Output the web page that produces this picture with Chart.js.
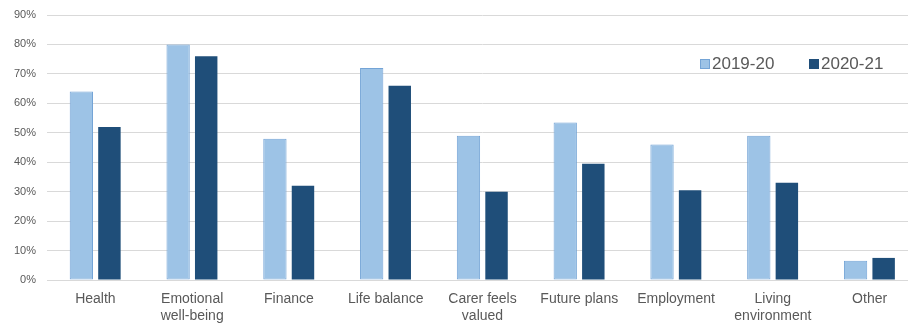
<!DOCTYPE html>
<html>
<head>
<meta charset="utf-8">
<script src="https://cdn.jsdelivr.net/npm/chart.js@4"></script>
<style>
  html, body { margin: 0; padding: 0; background: #ffffff; overflow: hidden; }
  #wrap { width: 918px; height: 324px; }
</style>
</head>
<body>
<div id="wrap"><canvas id="chart" width="918" height="324"></canvas></div>
<script>
// Categories (multi-line labels as arrays)
const categories = [
  'Health',
  ['Emotional', 'well-being'],
  'Finance',
  'Life balance',
  ['Carer feels', 'valued'],
  'Future plans',
  'Employment',
  ['Living', 'environment'],
  'Other'
];

// Series labels
const seriesNames = ['2019-20', '2020-21'];

// Percentages per category
const values2019 = [64, 80, 48, 72, 49, 53.5, 46, 49, 6.5];
const values2020 = [52, 76, 32, 66, 30, 39.5, 30.5, 33, 7.5];

// Y-axis ticks
const yTicks = [0, 10, 20, 30, 40, 50, 60, 70, 80, 90];

const lightBlue = '#9dc3e6';
const lightBorder = '#74a4d6';
const darkBlue = '#1f4e79';
const textGrey = '#595959';

// Legend drawn inside the plot area, upper right
const insideLegend = {
  id: 'insideLegend',
  afterDraw(chart) {
    const ctx = chart.ctx;
    ctx.save();
    ctx.font = '17px "Liberation Sans", Arial, sans-serif';
    ctx.textBaseline = 'middle';
    ctx.textAlign = 'left';
    const y = 64;
    const items = [
      { x: 700, fill: lightBlue, stroke: lightBorder },
      { x: 809, fill: darkBlue, stroke: darkBlue }
    ];
    items.forEach((it, i) => {
      ctx.fillStyle = it.fill;
      ctx.fillRect(it.x, y - 5, 10, 10);
      ctx.strokeStyle = it.stroke;
      ctx.lineWidth = 1;
      ctx.strokeRect(it.x + 0.5, y - 4.5, 9, 9);
      ctx.fillStyle = textGrey;
      ctx.fillText(chart.data.datasets[i].label, it.x + 12, y);
    });
    ctx.restore();
  }
};

new Chart(document.getElementById('chart'), {
  type: 'bar',
  data: {
    labels: categories,
    datasets: [
      {
        label: seriesNames[0],
        data: values2019,
        backgroundColor: lightBlue,
        borderColor: lightBorder,
        borderWidth: 1,
        borderSkipped: false,
        categoryPercentage: 0.58,
        barPercentage: 0.83
      },
      {
        label: seriesNames[1],
        data: values2020,
        backgroundColor: darkBlue,
        borderColor: darkBlue,
        borderWidth: 0,
        categoryPercentage: 0.58,
        barPercentage: 0.8
      }
    ]
  },
  options: {
    responsive: false,
    animation: false,
    devicePixelRatio: 1,
    layout: { padding: { top: 0, right: 0, left: 0, bottom: 0 } },
    plugins: {
      legend: { display: false },
      tooltip: { enabled: false }
    },
    scales: {
      y: {
        min: 0,
        max: 90,
        afterBuildTicks(scale) {
          scale.ticks = yTicks.map(v => ({ value: v }));
        },
        afterFit(scale) {
          scale.width = 47;
          scale.paddingTop = 15;
          scale.paddingBottom = 0;
        },
        border: { display: false },
        grid: { color: '#d9d9d9', lineWidth: 1, drawTicks: false },
        ticks: {
          padding: 11,
          color: textGrey,
          font: { family: '"Liberation Sans", Arial, sans-serif', size: 11 },
          callback: v => v + '%'
        }
      },
      x: {
        afterFit(scale) { scale.height = 44; },
        border: { display: true, color: '#d9d9d9' },
        grid: { display: false, drawTicks: false },
        ticks: {
          padding: 10,
          color: textGrey,
          autoSkip: false,
          maxRotation: 0,
          font: { family: '"Liberation Sans", Arial, sans-serif', size: 14, lineHeight: 1.25 }
        }
      }
    }
  },
  plugins: [insideLegend]
});
</script>
</body>
</html>
